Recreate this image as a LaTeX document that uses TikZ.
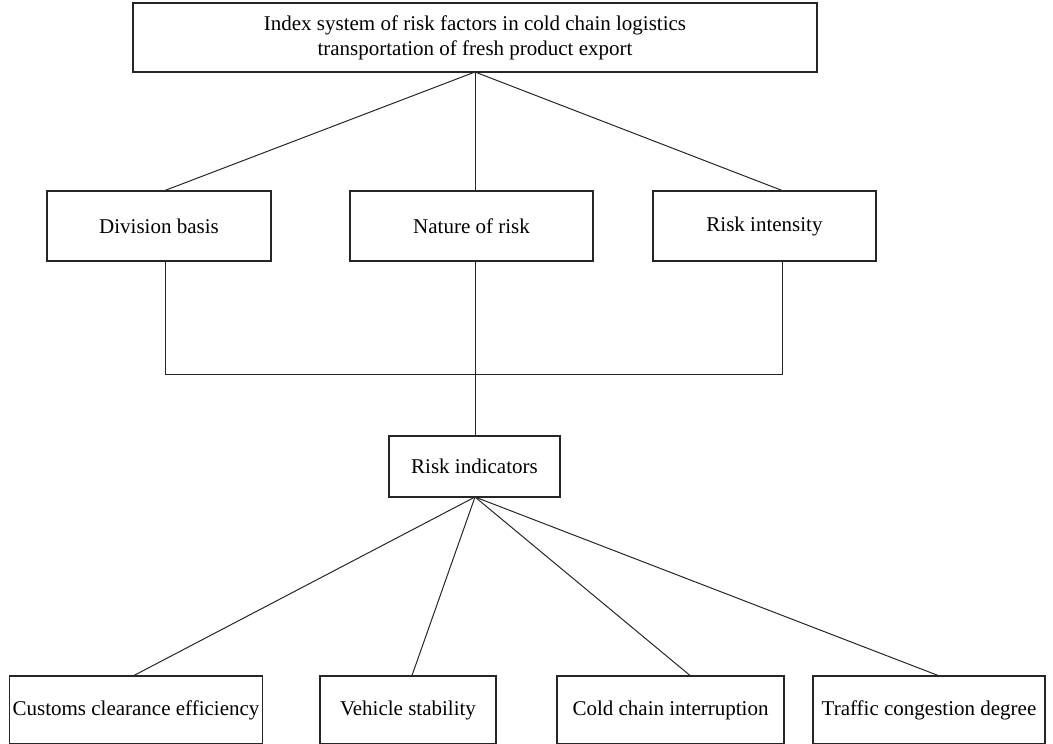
\documentclass[tikz,border=0pt]{standalone}
\usepackage{fontspec}
\setmainfont{Liberation Serif}
\begin{document}
\begin{tikzpicture}[x=1pt,y=-1pt,
  box/.style={draw=black!85,line width=1.1pt,inner sep=0pt,font=\fontsize{21}{25}\selectfont,align=center},
  conn/.style={draw=black!85,line width=1pt}]
\useasboundingbox (0,0) rectangle (1053,744);
\node[box,minimum width=684pt,minimum height=69pt] (top) at (475,37.5) {Index system of risk factors in cold chain logistics\\transportation of fresh product export};
\node[box,minimum width=224pt,minimum height=70pt] (div) at (159,226) {Division basis};
\node[box,minimum width=243pt,minimum height=70pt] (nat) at (471.5,226) {Nature of risk};
\node[box,minimum width=223pt,minimum height=70pt] (int) at (764.5,226) {Risk intensity};
\node[box,minimum width=171pt,minimum height=61pt] (ind) at (474.5,466.5) {Risk indicators};
\node[box,minimum width=253pt,minimum height=68pt] (c1) at (136,710) {Customs clearance efficiency};
\node[box,minimum width=176pt,minimum height=68pt] (c2) at (408,710) {Vehicle stability};
\node[box,minimum width=227pt,minimum height=68pt] (c3) at (670.5,710) {Cold chain interruption};
\node[box,minimum width=232pt,minimum height=68pt] (c4) at (929,710) {Traffic congestion degree};
\coordinate (hub) at (475,72);
\coordinate (lh) at (165,374);
\coordinate (mh) at (475,374);
\coordinate (rh) at (782,374);
\coordinate (ih) at (475,497);
\draw[conn] (hub) -- (div.north -| 165,0);
\draw[conn] (hub) -- (nat.north -| 475,0);
\draw[conn] (hub) -- (int.north -| 782,0);
\draw[conn] (div.south -| lh) -- (lh) -- (rh) -- (int.south -| rh);
\draw[conn] (nat.south -| mh) -- (ind.north -| mh);
\draw[conn] (ih) -- (c1.north -| 134,0);
\draw[conn] (ih) -- (c2.north -| 412,0);
\draw[conn] (ih) -- (c3.north -| 690,0);
\draw[conn] (ih) -- (c4.north -| 938,0);
\end{tikzpicture}
\end{document}
